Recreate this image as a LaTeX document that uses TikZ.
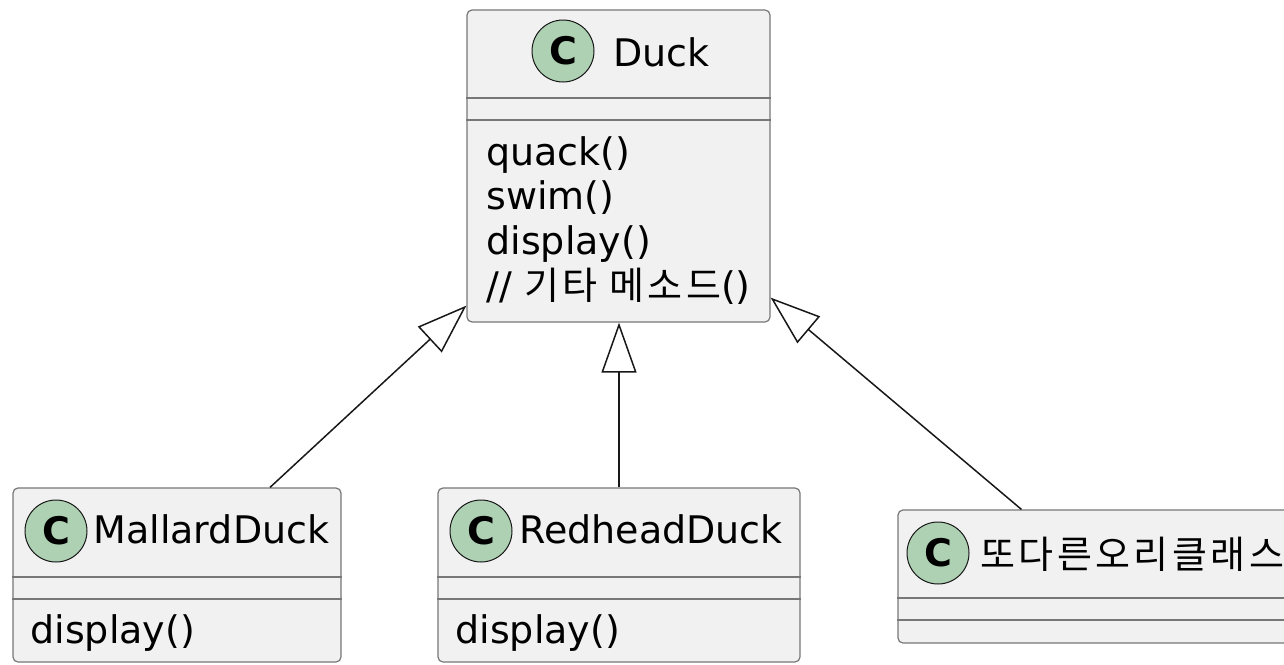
\documentclass[tikz,border=0pt]{standalone}
\usepackage{fontspec}
\setmainfont{DejaVu Sans}
\newfontfamily\krfont[LetterSpace=9]{Noto Sans CJK KR}
\usetikzlibrary{arrows.meta,fit}

\definecolor{classbg}{HTML}{F1F1F1}
\definecolor{classline}{HTML}{777777}
\definecolor{spotgreen}{HTML}{ADD1B2}
\definecolor{edgecol}{HTML}{181818}

\tikzset{
  classbox/.style={draw=classline, fill=classbg, line width=0.6pt, rounded corners=2.5pt, inner sep=0pt},
  divider/.style={draw=classline, line width=0.6pt},
  spot/.style={circle, draw=edgecol, fill=spotgreen, line width=0.5pt, minimum size=31pt, inner sep=0pt, font=\fontsize{19}{22}\selectfont\bfseries},
  member/.style={anchor=base west, inner sep=0pt, font=\fontsize{19}{22}\selectfont},
  inherit/.style={draw=edgecol, line width=0.75pt, -{Triangle[fill=white, length=25pt, width=17.5pt]}}
}

\begin{document}
\begin{tikzpicture}[x=0.5pt, y=-0.5pt]
\useasboundingbox (0,0) rectangle (1284,664);
\clip (0,0) rectangle (1284,664);

\node[classbox, fit={(467,10) (770,322)}] (duck) {};
\draw[divider] (duck.west |- 0,98) -- (duck.east |- 0,98);
\draw[divider] (duck.west |- 0,120) -- (duck.east |- 0,120);
\node[spot] (duckspot) at (563,51) {C};
\node[member] (duckname) at (613,66) {Duck};
\node[member] (quack) at (486,165) {quack()};
\node[member] (swim) at (486,209) {swim()};
\node[member] (display) at (486,254) {display()};
\node[member] (etc) at (486,299) {// {\krfont 기타 메소드}()};

\node[classbox, fit={(13,488) (341,662)}] (mallard) {};
\draw[divider] (mallard.west |- 0,577) -- (mallard.east |- 0,577);
\draw[divider] (mallard.west |- 0,599) -- (mallard.east |- 0,599);
\node[spot] (mallardspot) at (56,531) {C};
\node[member] (mallardname) at (93,543) {MallardDuck};
\node[member] (mallarddisplay) at (30,643) {display()};

\node[classbox, fit={(438,488) (800,662)}] (redhead) {};
\draw[divider] (redhead.west |- 0,577) -- (redhead.east |- 0,577);
\draw[divider] (redhead.west |- 0,599) -- (redhead.east |- 0,599);
\node[spot] (redheadspot) at (481,531) {C};
\node[member] (redheadname) at (519,543) {RedheadDuck};
\node[member] (redheaddisplay) at (455,643) {display()};

\node[classbox, fit={(898,510) (1330,643)}] (other) {};
\draw[divider] (other.west |- 0,598) -- (other.east |- 0,598);
\draw[divider] (other.west |- 0,620) -- (other.east |- 0,620);
\node[spot] (otherspot) at (938,553) {C};
\node[member] (othername) at (980,568) {\krfont 또다른오리클래스};

\draw[inherit] ([xshift=46.5pt]mallard.north) -- ([yshift=8.5pt]duck.south west);
\draw[inherit] (redhead.north) -- (redhead.north |- duck.south);
\draw[inherit] ([xshift=62pt]other.north west) -- ([yshift=12.5pt]duck.south east);
\end{tikzpicture}
\end{document}
